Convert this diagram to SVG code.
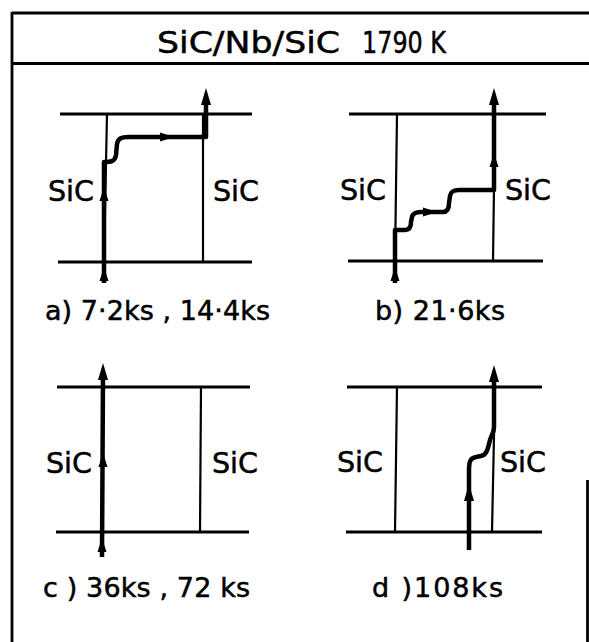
<svg xmlns="http://www.w3.org/2000/svg" xmlns:xlink="http://www.w3.org/1999/xlink" width="589" height="642" viewBox="0 0 589 642">
<style>
.frame{stroke:#000;stroke-width:2.8;fill:none}
.hl{stroke:#000;stroke-width:2.8;fill:none}
.vl{stroke:#000;stroke-width:2.2;fill:none}
.path{stroke:#000;stroke-width:4.5;fill:none;stroke-linejoin:round}
.lbl{font-family:"DejaVu Sans","Liberation Sans",sans-serif;font-size:28px;fill:#000;stroke:#000;stroke-width:0.5}
.cap{font-family:"DejaVu Sans","Liberation Sans",sans-serif;font-size:27px;fill:#000;stroke:#000;stroke-width:0.5}
.hdr{font-family:"DejaVu Sans","Liberation Sans",sans-serif;font-size:30px;fill:#000;stroke:#000;stroke-width:0.5}
</style>
<defs>
<path id="ah" d="M0,0 L5,17 L-5,17 Z" fill="#000"/>
<path id="ahs" d="M0,0 L4.5,14 L-4.5,14 Z" fill="#000"/>
</defs>
<rect width="589" height="642" fill="#fff"/>
<g id="frame">
<line class="frame" x1="12" y1="13" x2="589" y2="13"/>
<line class="frame" x1="12" y1="63.5" x2="589" y2="63.5"/>
<line class="frame" x1="12" y1="12" x2="12" y2="642"/>
<line class="frame" x1="587.5" y1="480" x2="587.5" y2="642"/>
<text class="hdr" y="53"><tspan x="157" textLength="183" lengthAdjust="spacingAndGlyphs">SiC/Nb/SiC</tspan><tspan x="362" textLength="84" lengthAdjust="spacingAndGlyphs">1790 K</tspan></text>
</g>
<g id="panel-a">
<line class="hl" x1="60" y1="114" x2="252" y2="114"/>
<line class="hl" x1="58" y1="262" x2="252" y2="262"/>
<line class="vl" x1="107" y1="114" x2="104" y2="262"/>
<line class="vl" x1="203" y1="114" x2="203" y2="262"/>
<text class="lbl" x="48" y="201" textLength="46" lengthAdjust="spacingAndGlyphs">SiC</text>
<text class="lbl" x="213" y="201" textLength="46" lengthAdjust="spacingAndGlyphs">SiC</text>
<text class="cap" x="45" y="320" textLength="225" lengthAdjust="spacing">a) 7·2ks , 14·4ks</text>
</g>
<g id="panel-b">
<line class="hl" x1="349" y1="114" x2="546" y2="114"/>
<line class="hl" x1="348" y1="261" x2="543" y2="261"/>
<line class="vl" x1="397" y1="114" x2="395" y2="261"/>
<line class="vl" x1="495" y1="114" x2="493" y2="261"/>
<text class="lbl" x="340" y="200" textLength="46" lengthAdjust="spacingAndGlyphs">SiC</text>
<text class="lbl" x="505" y="200" textLength="46" lengthAdjust="spacingAndGlyphs">SiC</text>
<text class="cap" x="375" y="320" textLength="130" lengthAdjust="spacing">b) 21·6ks</text>
</g>
<g id="panel-c">
<line class="hl" x1="57" y1="387" x2="250" y2="387"/>
<line class="hl" x1="56" y1="532" x2="249" y2="532"/>
<line class="vl" x1="201" y1="387" x2="200" y2="532"/>
<text class="lbl" x="46" y="473" textLength="46" lengthAdjust="spacingAndGlyphs">SiC</text>
<text class="lbl" x="212" y="473" textLength="46" lengthAdjust="spacingAndGlyphs">SiC</text>
<text class="cap" x="43" y="597" textLength="207" lengthAdjust="spacing">c ) 36ks , 72 ks</text>
</g>
<g id="panel-d">
<line class="hl" x1="347" y1="387" x2="542" y2="387"/>
<line class="hl" x1="346" y1="532" x2="542" y2="532"/>
<line class="vl" x1="397" y1="387" x2="395" y2="532"/>
<line class="vl" x1="495" y1="387" x2="492" y2="532"/>
<text class="lbl" x="337" y="472" textLength="46" lengthAdjust="spacingAndGlyphs">SiC</text>
<text class="lbl" x="500" y="472" textLength="46" lengthAdjust="spacingAndGlyphs">SiC</text>
<text class="cap" x="372" y="597" textLength="131" lengthAdjust="spacing">d )108ks</text>
</g>
<g id="connectors">
<path class="path" d="M104,283 L104,162 C110,162 115,162 116,155 L117,144 C118,138 122,137 128,137 L206,137 L206,100"/>
<use xlink:href="#ah" transform="translate(206,88)"/>
<use xlink:href="#ahs" transform="translate(104,187)"/>
<use xlink:href="#ahs" transform="translate(104,267)"/>
<use xlink:href="#ahs" transform="translate(174,137) rotate(90)"/>

<path class="path" d="M395,283 L395,230 L405,230 C410,230 411,226 411,222 L412,217 C413,213 416,212 421,212 L443,212 C448,212 449,208 449,203 L450,196 C451,191 454,190 459,190 L494,190 L494,100"/>
<use xlink:href="#ah" transform="translate(494,88)"/>
<use xlink:href="#ahs" transform="translate(494,153)"/>
<use xlink:href="#ahs" transform="translate(395,267)"/>
<use xlink:href="#ahs" transform="translate(437,212) rotate(90)"/>

<path class="path" d="M102,557 L103,375"/>
<use xlink:href="#ah" transform="translate(103,363)"/>
<use xlink:href="#ahs" transform="translate(103,453)"/>
<use xlink:href="#ahs" transform="translate(102,538)"/>

<path class="path" d="M469,550 L469,470 C469,462 470,458 476,457 L481,456 C487,455 488,448 490,440 C491,436 494,433 494,427 L494,377"/>
<use xlink:href="#ah" transform="translate(494,365)"/>
<use xlink:href="#ah" transform="translate(469,484)"/>
</g>
</svg>
